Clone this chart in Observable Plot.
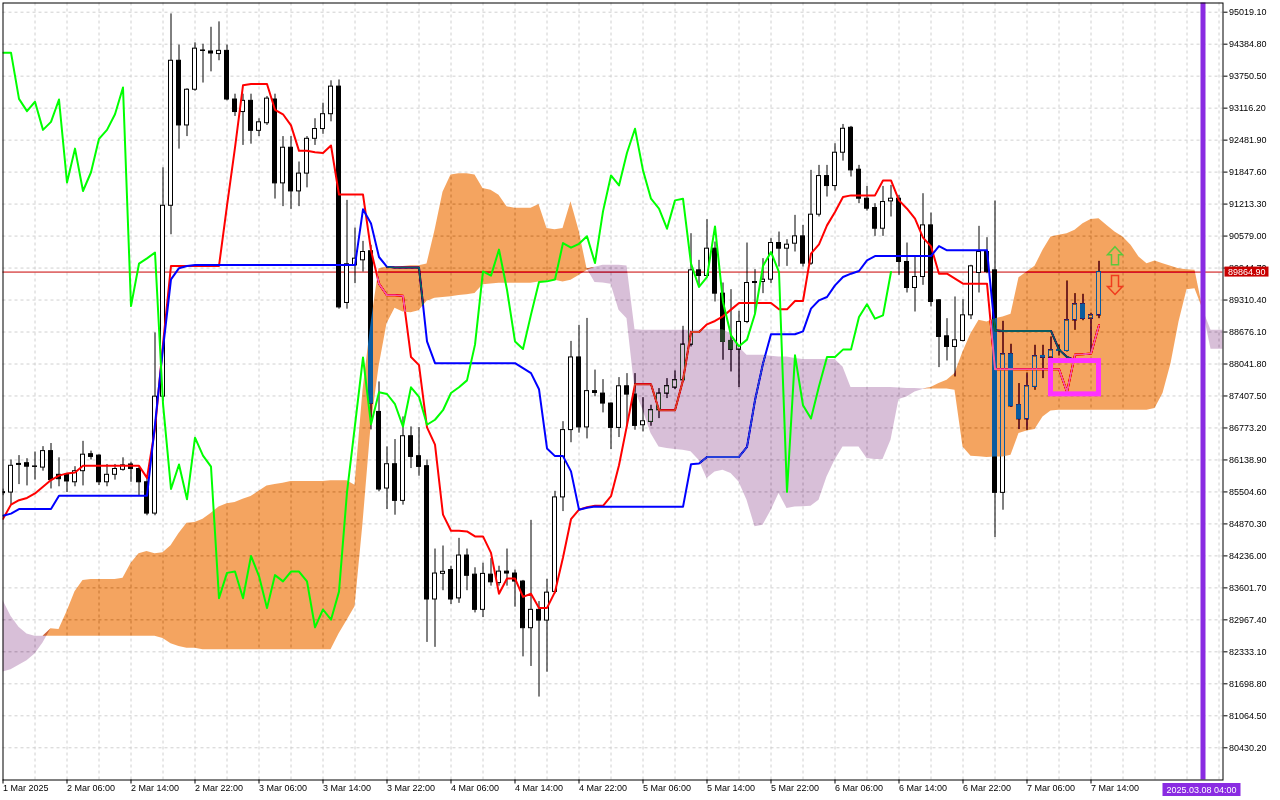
<!DOCTYPE html>
<html><head><meta charset="utf-8">
<script src="https://cdn.jsdelivr.net/npm/d3@7"></script>
<script src="https://cdn.jsdelivr.net/npm/@observablehq/plot@0.6"></script>
<style>
html,body{margin:0;padding:0;background:#fff;overflow:hidden;}
#chart svg{display:block;}
</style></head><body><div id="chart"></div>
<script>
// ---- H1 candles, bar 0 = "1 Mar 2025" label ----
const opens = [85480,85492,86060,86074,86000,85987,86314,85844,85844,85696,
85916,86253,86225,85696,85844,85943,86049,85959,85696,85075,
87394,91180,94056,92773,93481,94260,94240,94189,94252,93287,
93039,93261,92666,92817,93287,91624,92331,91465,91818,92508,
92702,92996,93543,89252,89998,90098,90278,87091,85572,86054,
85327,86609,86213,86015,83371,83880,83955,83393,84243,83864,
83166,83864,83697,83924,83886,83727,82802,83166,82953,83522,
85396,86731,88172,86784,87504,87455,87257,86774,87600,87435,
86827,86893,87125,87455,87574,87719,88426,89899,89787,90329,
89437,88499,88327,88875,89668,89668,89714,90441,90329,90428,
90573,90032,91003,91769,91571,92232,92727,91895,91320,91135,
90725,91267,91320,90065,89549,89767,90791,89305,88591,88380,
88499,89007,89847,90263,89899,85486,88234,87224,86946,87587,
88201,88168,88300,88300,88908,89225,88941,89007];
const highs = [85560,86138,86225,86164,86296,86403,86465,86181,85850,86005,
86508,86314,86240,86049,86049,86181,86094,86005,85829,88659,
91933,94985,94367,93500,94411,94384,94720,94827,94367,93393,
93393,93393,92906,93348,93393,92552,92552,92048,92552,92906,
93215,93658,93675,91287,90738,90474,90395,87686,86398,86543,
86992,86794,86781,86139,84372,84432,84031,84584,84372,84000,
84091,84182,84031,84372,83955,83750,84941,83330,83773,85517,
86898,88490,88809,88946,87921,87732,87270,87772,87851,87851,
87375,87224,87554,87752,87904,88789,90626,90098,90904,90461,
89648,89516,89087,90441,89913,90131,90527,90659,90507,90990,
90791,91882,91981,91981,92410,92793,92754,91981,91564,91221,
91564,91584,91386,90441,90164,91419,91036,89318,88941,89371,
89318,90000,90772,90547,91274,88888,88433,87653,87864,88413,
88413,88578,88420,89688,89437,89424,89050,90078];
const lows = [85430,85252,85650,85624,85740,85916,85563,85607,85492,85607,
85624,86138,85632,85607,85739,85916,85696,85430,85032,85032,
87300,90605,92304,92552,93450,93614,93836,94056,93261,92952,
92377,92402,92552,92773,91313,91163,91109,91163,91535,92377,
92597,92845,89129,89129,89635,89866,86735,85506,85156,85043,
85242,85968,85816,82520,82422,83545,83272,83295,83545,83105,
83014,83636,83636,83636,83219,82233,82043,81436,81929,83484,
85115,86480,86670,86556,87391,87072,86345,86583,86794,86728,
86695,86807,86959,87356,87534,87700,88380,89569,89767,89272,
88116,87884,87574,88842,89027,89437,89635,89965,89978,90263,
89965,89999,90957,91353,91472,92066,91750,91221,91075,90573,
90573,90957,89800,89450,89073,89602,89173,87970,88102,87785,
88480,88922,89450,89833,84601,85142,87180,86741,86728,87521,
87752,88150,88200,88280,88710,88900,88248,88941];
const closes = [85500,86023,86040,86005,86010,86314,85739,85757,85712,85916,
86243,86199,85696,85844,85959,86031,85959,85696,85075,87394,
91180,94056,92773,93481,94296,94250,94200,94252,93287,93039,
93261,92666,92835,93305,91624,92331,91465,91818,92508,92702,
92996,93543,89164,90020,90131,90263,87257,85552,86054,85327,
86609,86199,86001,83371,83886,83920,83371,84243,83841,83166,
83879,83712,83924,83886,83727,82802,83166,82953,83507,85396,
86731,88172,86784,87504,87467,87257,86774,87600,87435,86814,
86906,87125,87455,87600,87719,88426,89899,89787,90329,89437,
88479,88327,88875,89648,89648,89714,90441,90329,90408,90573,
90032,91003,91769,91571,92232,92707,91882,91320,91122,90725,
91254,91320,90065,89549,89767,90791,89272,88578,88380,88512,
89007,89979,90263,89866,85486,88234,87204,86946,87600,88195,
88168,88314,88320,88908,89225,88941,89007,89865];

// ---- Ichimoku lines ----
const tenkan = [84970,85253,85341,85385,85474,85607,85740,85828,85872,85890,
86023,86023,86023,86023,86023,86023,86023,86023,85784,86757,
88438,89986,89986,89986,89986,89986,89986,89986,91181,92331,
93570,93596,93596,93596,93083,92995,92774,92269,92269,92243,
92225,92375,91402,91402,91402,91402,90296,89635,89404,89404,
89394,88180,88020,86784,86443,85054,84736,84736,84721,84622,
84622,84296,83484,83788,83788,83424,83484,83204,83204,83522,
84205,84964,85153,85200,85230,85230,85420,86034,86830,87640,
87640,87640,87125,87125,87125,87719,88677,88677,88829,88895,
88987,89120,89252,89252,89252,89252,89252,89126,89126,89292,
89292,90230,90415,90791,91056,91353,91386,91386,91386,91386,
91683,91683,91287,91122,90923,90547,90375,89833,89833,89734,
89635,89635,89635,89635,87940,87940,87940,87940,87940,87940,
87940,87940,87940,87488,88228,88235,88248,88809];
const kijun = [85031,85075,85164,85164,85164,85164,85164,85430,85430,85430,
85430,85430,85430,85430,85430,85430,85430,85430,85430,86845,
88350,89721,89942,89986,90004,90004,90004,90004,90004,90004,
90004,90004,90004,90004,90004,90004,90004,90004,90004,90004,
90004,90004,90004,90004,90004,91110,90827,90164,89969,89955,
89955,89955,89955,88490,88058,88058,88058,88058,88058,88058,
88058,88058,88058,88058,88058,87959,87861,87542,86367,86215,
86215,85912,85153,85191,85214,85209,85209,85209,85209,85209,
85209,85209,85209,85209,85209,85209,86054,86067,86199,86199,
86199,86199,86199,86398,87323,88050,88631,88631,88631,88631,
88690,89140,89305,89371,89602,89767,89833,89886,90098,90183,
90183,90183,90183,90183,90183,90183,90183,90382,90296,90296,
90296,90296,90296,90296,88710,88697,88697,88697,88697,88697,
88697,88697,88327,88182,88116,88116,88116,88116];
const chikou = [94216,94216,93300,93057,93243,92685,92844,93287,91641,92313,
91473,91845,92508,92685,92995,93526,89190,90031,90137,90252,
87257,85563,86049,85359,86580,86226,86005,83395,83899,83925,
83395,84235,83837,83200,83855,83731,83925,83925,83731,82820,
83173,82970,83527,85500,86830,88173,86845,87482,87447,87244,
86801,87580,87391,86837,86936,87125,87467,87580,87717,88426,
89878,89795,90311,89514,88490,88339,89021,89666,89681,89719,
90440,90349,90425,90576,90045,91069,91782,91584,92232,92707,
91882,91320,91122,90725,91287,91320,90032,89569,89767,90771,
89272,88611,88393,88525,89040,89985,90263,89866,85506,88214,
87224,86960,87600,88182,88182,88327,88327,88975,89226,88941,
89007,89866];
const spanA = [81935,81979,82068,82156,82289,82510,82793,82775,83129,83527,
83749,83766,83766,83766,83766,83793,84085,84280,84324,84280,
84297,84439,84678,84881,84899,84961,85076,85208,85271,85297,
85359,85412,85518,85624,85651,85677,85713,85713,85713,85713,
85713,85724,85724,85724,85638,87521,88842,89932,89965,89970,
89975,89992,89992,90023,90690,91449,91790,91813,91813,91790,
91524,91487,91388,91160,91130,91130,91130,91206,90728,90705,
90728,91259,90690,89932,89660,89648,89622,89107,88941,87521,
87125,86662,86398,86365,86345,86332,86299,86134,85770,85902,
85935,85869,85704,85340,84812,84845,85129,85473,85175,85208,
85209,85222,85341,85803,86133,86398,86398,86398,86167,86147,
86147,86530,87336,87389,87488,87534,87574,87653,87719,87851,
88281,88644,88908,88875,88941,88974,89027,89754,89866,89979,
90296,90560,90593,90626,90692,90824,90910,90923,90791,90659,
90560,90395,90164,90032,90084,90032,89979,89932,89912,89899,
89100,88334,88334,88334];
const spanB = [83350,83041,82820,82687,82643,82643,82643,82643,82643,82643,
82643,82643,82643,82643,82643,82643,82643,82643,82643,82643,
82599,82493,82440,82404,82404,82377,82377,82377,82377,82377,
82377,82377,82377,82377,82377,82377,82377,82377,82377,82377,
82377,82377,82687,82953,83226,84878,86794,87983,88842,89147,
89073,89060,89097,89287,89348,89363,89375,89401,89415,89439,
89613,89628,89643,89643,89643,89643,89643,89666,89689,89704,
89666,89704,89795,89894,89960,89999,89999,89999,89985,88723,
88710,88710,88710,88710,88710,88710,88710,88710,88723,88723,
88723,88644,88380,88215,88215,88215,88195,88182,88182,88149,
88129,88129,88129,88129,88129,87983,87574,87574,87574,87574,
87574,87574,87567,87554,87554,87547,87547,87547,87547,87521,
86398,86213,86200,86186,86199,86199,86232,86662,86715,86741,
86992,87111,87124,87124,87124,87124,87124,87124,87124,87124,
87124,87124,87124,87124,87157,87455,88049,88875,89516,89536,
89120,88710,88710,88710];

// ---- axes ----
const priceTicks = [95019.10,94384.80,93750.50,93116.20,92481.90,91847.60,91213.30,90579.00,
89944.70,89310.40,88676.10,88041.80,87407.50,86773.20,86138.90,85504.60,84870.30,84236.00,
83601.70,82967.40,82333.10,81698.80,81064.50,80430.20];
const timeTickBars = [0,8,16,24,32,40,48,56,64,72,80,88,96,104,112,120,128,136];
const timeTickLabels = ["1 Mar 2025","2 Mar 06:00","2 Mar 14:00","2 Mar 22:00","3 Mar 06:00",
"3 Mar 14:00","3 Mar 22:00","4 Mar 06:00","4 Mar 14:00","4 Mar 22:00","5 Mar 06:00",
"5 Mar 14:00","5 Mar 22:00","6 Mar 06:00","6 Mar 14:00","6 Mar 22:00","7 Mar 06:00","7 Mar 14:00"];
const currentPrice = 89864.90;
const markerBar = 150;
const markerLabel = "2025.03.08 04:00";
const signalBox = [{from:131, to:137, low:87440, high:88100}];
const signals = [{bar:139, price:90190, dir:"up"},{bar:139, price:89610, dir:"down"}];

// ---- build tables ----
const candles = opens.map((o,i)=>({i, o, h:highs[i], l:lows[i], c:closes[i]}));
const tk = tenkan.map((v,i)=>({i,v}));
const kj = kijun.map((v,i)=>({i,v}));
const ck = chikou.map((v,i)=>({i,v}));
const cloud = spanA.map((a,j)=>({j, a, b:spanB[j]}));
const labelMap = new Map(timeTickBars.map((b,k)=>[b,timeTickLabels[k]]));
const gridBars = d3.range(4, 153, 4);

const upArrow = {draw(c){c.moveTo(0,-9);c.lineTo(7.5,-1);c.lineTo(3.5,-1);c.lineTo(3.5,9);c.lineTo(-3.5,9);c.lineTo(-3.5,-1);c.lineTo(-7.5,-1);c.closePath();}};
const downArrow = {draw(c){c.moveTo(0,9.5);c.lineTo(7.5,1.5);c.lineTo(3.5,1.5);c.lineTo(3.5,-9.5);c.lineTo(-3.5,-9.5);c.lineTo(-3.5,1.5);c.lineTo(-7.5,1.5);c.closePath();}};

const plot = Plot.plot({
  width:1280, height:800,
  marginLeft:2.5, marginRight:57.5, marginTop:2.5, marginBottom:20.5,
  x:{type:"linear", domain:[0,152.5]},
  y:{type:"linear", domain:[79791.3,95201.5]},
  color:{type:"identity"},
  style:{fontFamily:"'Liberation Sans', Arial, sans-serif", fontSize:"9px", background:"white", color:"black"},
  marks:[
    Plot.frame({fill:"white"}),
    Plot.ruleX(gridBars, {stroke:"#d0d0d0", strokeDasharray:"3,3"}),
    Plot.ruleY(priceTicks, {stroke:"#d0d0d0", strokeDasharray:"3,3"}),
    Plot.ruleY([currentPrice], {stroke:"#c80000", strokeWidth:1}),
    Plot.ruleX(candles, {x:"i", y1:"l", y2:"h", stroke:"black", strokeWidth:1, clip:true}),
    Plot.rect(candles, {x1:d=>d.i-0.25, x2:d=>d.i+0.25, y1:"o", y2:"c",
      fill:d=>d.c>=d.o?"white":"black", stroke:"black", strokeWidth:1, clip:true}),
    Plot.line(tk, {x:"i", y:"v", stroke:"#ff0000", strokeWidth:2, clip:true}),
    Plot.line(kj, {x:"i", y:"v", stroke:"#0000ff", strokeWidth:2, clip:true}),
    Plot.areaY(cloud, {x:"j", y1:"b", y2:d=>Math.max(d.a,d.b), fill:"#0b5b9f", clip:true}),
    Plot.areaY(cloud, {x:"j", y1:"a", y2:d=>Math.max(d.a,d.b), fill:"#274027", clip:true}),
    Plot.line(ck, {x:"i", y:"v", stroke:"#00ff00", strokeWidth:2, clip:true}),
    Plot.rect(signalBox, {x1:"from", x2:"to", y1:"low", y2:"high", fill:"none", stroke:"#ff33ff", strokeWidth:5}),
    Plot.dot(signals.filter(d=>d.dir==="up"), {x:"bar", y:"price", symbol:upArrow, r:1, fill:"none", stroke:"#5cc83c", strokeWidth:1.5}),
    Plot.dot(signals.filter(d=>d.dir==="down"), {x:"bar", y:"price", symbol:downArrow, r:1, fill:"none", stroke:"#f03c1e", strokeWidth:1.5}),
    Plot.ruleX([markerBar], {stroke:"#8a2be2", strokeWidth:5}),
    Plot.frame({stroke:"black"}),
    Plot.axisY({anchor:"right", ticks:priceTicks, tickFormat:d=>d.toFixed(2), tickSize:4, tickPadding:2, stroke:"black", fill:"black"}),
    Plot.axisX({anchor:"bottom", ticks:timeTickBars, tickFormat:d=>labelMap.get(d), tickSize:4, tickPadding:1, textAnchor:"start", stroke:"black", fill:"black"})
  ]
});

// cloud drawn in MT4 "xor-like" fashion
d3.select(plot).selectAll('g[aria-label="area"]').style("mix-blend-mode","difference");

const xs = plot.scale("x"), ys = plot.scale("y");
const svg = d3.select(plot);
const right = xs.range[1], bottom = ys.range[0];
const py = ys.apply(currentPrice);
const g = svg.append("g")
  .attr("font-family","'Liberation Sans', Arial, sans-serif")
  .attr("font-size",9)
  .attr("text-anchor","start");
g.append("rect").attr("x",right+2).attr("y",py-5).attr("width",44).attr("height",10).attr("fill","#c80000");
g.append("text").attr("x",right+5.5).attr("y",py).attr("dy","0.35em").attr("text-anchor","start").attr("fill","white").text(currentPrice.toFixed(2));
const mx = xs.apply(markerBar);
g.append("rect").attr("x",mx-40).attr("y",bottom+3.5).attr("width",78).attr("height",13).attr("fill","#8a2be2");
g.append("text").attr("x",mx-1).attr("y",bottom+10).attr("dy","0.35em").attr("text-anchor","middle").attr("fill","white").text(markerLabel);

document.getElementById("chart").appendChild(plot);
</script></body></html>
